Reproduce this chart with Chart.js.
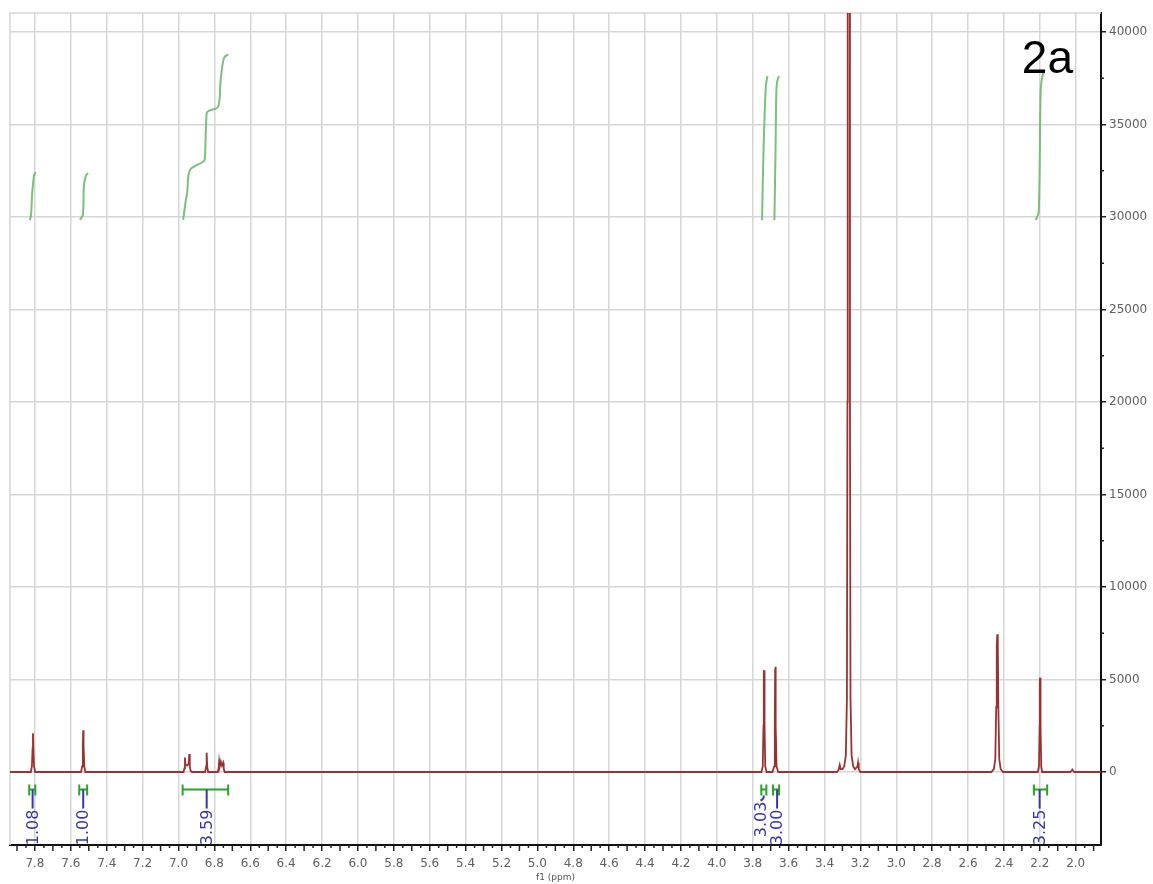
<!DOCTYPE html>
<html><head><meta charset="utf-8">
<script src="https://cdn.jsdelivr.net/npm/chart.js@4"></script>
<style>html,body{margin:0;padding:0;background:#fff;} canvas{display:block;}</style>
</head><body>
<canvas id="c" width="1153" height="884"></canvas>
<script>
// ---- spectrum (ppm, intensity) ----
const specPpm = [7.939, 7.823, 7.817, 7.813, 7.811, 7.809, 7.805, 7.799,
  7.543, 7.537, 7.533, 7.531, 7.529, 7.525, 7.519,
  6.972, 6.967, 6.964, 6.961, 6.952, 6.943, 6.940, 6.937, 6.932, 6.925,
  6.851, 6.846, 6.843, 6.840, 6.835,
  6.781, 6.776, 6.773, 6.769, 6.764, 6.758, 6.751, 6.748, 6.743,
  3.751, 3.744, 3.740, 3.738, 3.736, 3.734, 3.730, 3.723,
  3.690, 3.681, 3.677, 3.675, 3.673, 3.671, 3.667, 3.658,
  3.330, 3.322, 3.315, 3.310, 3.300, 3.290, 3.281, 3.275, 3.272, 3.2705, 3.2595, 3.258, 3.255, 3.249, 3.240, 3.230, 3.216, 3.213, 3.209, 3.200,
  2.470, 2.456, 2.448, 2.443, 2.440, 2.437, 2.434, 2.431, 2.426, 2.418, 2.405,
  2.211, 2.205, 2.201, 2.200, 2.198, 2.196, 2.192, 2.187,
  2.030, 2.022, 2.019, 2.015, 2.008,
  1.859];
const specInt = [0, 0, 300, 1300, 2090, 1300, 300, 0,
  0, 300, 1400, 2260, 1400, 300, 0,
  0, 200, 780, 400, 350, 450, 975, 300, 50, 0,
  0, 300, 1040, 300, 0,
  0, 200, 600, 350, 560, 350, 500, 200, 0,
  0, 300, 2500, 5400, 5500, 2500, 300, 0,
  0, 300, 2500, 5600, 5690, 2500, 300, 0,
  0, 100, 380, 150, 150, 300, 900, 4000, 20000, 80000, 80000, 20000, 4000, 900, 300, 150, 300, 500, 150, 0,
  0, 150, 700, 3500, 6800, 7440, 6800, 3500, 700, 150, 0,
  0, 300, 2500, 5000, 5100, 2500, 300, 0,
  0, 80, 130, 80, 0,
  0];

// ---- integral curves ----
const int1Ppm = [7.828, 7.822, 7.815, 7.806, 7.798];
const int1Val = [29840, 30100, 31300, 32200, 32430];
const int2Ppm = [7.549, 7.533, 7.527, 7.516, 7.505];
const int2Val = [29840, 30110, 31730, 32220, 32380];
const int3Ppm = [6.974, 6.959, 6.952, 6.936, 6.862, 6.853, 6.843, 6.829, 6.779, 6.765, 6.747, 6.723];
const int3Val = [29840, 30920, 31280, 32540, 32990, 33170, 35620, 35750, 35960, 37400, 38580, 38800];
const int4Ppm = [3.748, 3.740, 3.727, 3.718];
const int4Val = [29840, 33500, 37050, 37620];
const int5Ppm = [3.679, 3.673, 3.668, 3.662, 3.653];
const int5Val = [29840, 33500, 36860, 37400, 37620];
const int6Ppm = [2.223, 2.206, 2.195, 2.184, 2.173];
const int6Val = [29840, 30270, 36870, 37680, 37950];

// ---- integration brackets & labels ----
const intFrom = [7.832, 7.553, 6.977, 3.752, 3.687, 2.233];
const intTo = [7.798, 7.509, 6.723, 3.724, 3.653, 2.159];
const intLabelPpm = [7.813, 7.531, 6.843, 3.757, 3.664, 2.201];
const intLabels = ['1.08', '1.00', '3.59', '3.03', '3.00', '3.25'];

// ---- axes ----
const xTickValues = [7.8, 7.6, 7.4, 7.2, 7.0, 6.8, 6.6, 6.4, 6.2, 6.0, 5.8, 5.6, 5.4, 5.2, 5.0, 4.8, 4.6, 4.4, 4.2, 4.0, 3.8, 3.6, 3.4, 3.2, 3.0, 2.8, 2.6, 2.4, 2.2, 2.0];
const yTickValues = [0, 5000, 10000, 15000, 20000, 25000, 30000, 35000, 40000];
const yMinorTickValues = [2500, 7500, 12500, 17500, 22500, 27500, 32500, 37500];
const xRange = [1.859, 7.939];
const yRange = [-3946, 41027];
const xTitle = 'f1 (ppm)';
const sampleLabel = '2a';

const zip = (xs, ys) => xs.map((x, i) => ({x: x, y: ys[i]}));
const intColor = 'rgba(110,185,110,0.9)';
const intDs = (xs, ys) => ({data: zip(xs, ys), borderColor: intColor, borderWidth: 2, pointRadius: 0, tension: 0.3, fill: false});

const decor = {
  id: 'decor',
  beforeDatasetsDraw(chart) {
    const ctx = chart.ctx, a = chart.chartArea;
    ctx.save();
    ctx.strokeStyle = '#d6d6d6'; ctx.lineWidth = 1.5;
    ctx.beginPath();
    ctx.moveTo(a.left, a.bottom); ctx.lineTo(a.left, a.top); ctx.lineTo(a.right, a.top);
    ctx.stroke();
    ctx.restore();
  },
  afterDraw(chart) {
    const ctx = chart.ctx, a = chart.chartArea;
    const xs = chart.scales.x, ys = chart.scales.y;
    ctx.save();
    // minor x ticks
    ctx.strokeStyle = '#222'; ctx.lineWidth = 1.5;
    for (let k = Math.ceil(xRange[0] * 20); k <= Math.floor(xRange[1] * 20); k++) {
      if (k % 4 === 0) continue;
      const px = xs.getPixelForValue(k / 20);
      const len = (k % 2 === 0) ? 6 : 3;
      ctx.beginPath(); ctx.moveTo(px, a.bottom); ctx.lineTo(px, a.bottom + len); ctx.stroke();
    }
    // minor y ticks
    yMinorTickValues.forEach(v => {
      const py = ys.getPixelForValue(v);
      ctx.beginPath(); ctx.moveTo(a.right, py); ctx.lineTo(a.right + 3, py); ctx.stroke();
    });
    // integration brackets and labels (clipped to plot area)
    ctx.save();
    ctx.beginPath(); ctx.rect(a.left, a.top, a.right - a.left, a.bottom - a.top - 1); ctx.clip();
    const yb = ys.getPixelForValue(-950);
    intFrom.forEach((f, i) => {
      const x1 = xs.getPixelForValue(f), x2 = xs.getPixelForValue(intTo[i]);
      const cx = (x1 + x2) / 2, lx = xs.getPixelForValue(intLabelPpm[i]);
      ctx.strokeStyle = 'rgb(40,165,40)'; ctx.lineWidth = 2;
      ctx.beginPath();
      ctx.moveTo(x1, yb); ctx.lineTo(x2, yb);
      ctx.moveTo(x1, yb - 5); ctx.lineTo(x1, yb + 6);
      ctx.moveTo(x2, yb - 5); ctx.lineTo(x2, yb + 6);
      ctx.stroke();
      ctx.strokeStyle = 'rgb(55,55,165)'; ctx.lineWidth = 2;
      let textTop;
      ctx.beginPath();
      if (Math.abs(lx - cx) > 1.5) {
        ctx.moveTo(cx, yb + 6);
        ctx.quadraticCurveTo(cx, yb + 10, lx, yb + 11);
        textTop = yb + 12;
      } else {
        ctx.moveTo(lx, yb); ctx.lineTo(lx, yb + 19);
        textTop = yb + 20;
      }
      ctx.stroke();
      ctx.save();
      ctx.translate(lx, textTop);
      ctx.rotate(-Math.PI / 2);
      ctx.fillStyle = 'rgb(55,55,165)';
      ctx.font = '16px "DejaVu Sans"';
      ctx.textAlign = 'right'; ctx.textBaseline = 'middle';
      ctx.fillText(intLabels[i], 0, 1);
      ctx.restore();
    });
    ctx.restore();
    // sample label
    ctx.fillStyle = '#000';
    ctx.font = '46px "Liberation Sans", Arial, sans-serif';
    ctx.textAlign = 'right'; ctx.textBaseline = 'alphabetic';
    ctx.fillText(sampleLabel, a.right - 28, a.top + 60);
    ctx.restore();
  }
};

new Chart(document.getElementById('c'), {
  type: 'line',
  data: {
    datasets: [
      {data: zip(specPpm, specInt), borderColor: 'rgb(155,50,50)', borderWidth: 1.8, pointRadius: 0, tension: 0, fill: false},
      intDs(int1Ppm, int1Val), intDs(int2Ppm, int2Val), intDs(int3Ppm, int3Val),
      intDs(int4Ppm, int4Val), intDs(int5Ppm, int5Val), intDs(int6Ppm, int6Val)
    ]
  },
  options: {
    responsive: false, animation: false, devicePixelRatio: 1,
    layout: {padding: {left: 10, top: 13, right: 0, bottom: 0}},
    plugins: {legend: {display: false}, tooltip: {enabled: false}},
    scales: {
      x: {
        type: 'linear', position: 'bottom', reverse: true, min: xRange[0], max: xRange[1],
        afterBuildTicks: s => { s.ticks = xTickValues.map(v => ({value: v})); },
        afterFit: s => { s.height = 39; },
        ticks: {callback: v => Number(v).toFixed(1), color: '#606060', font: {family: 'DejaVu Sans', size: 12}, padding: 6, maxRotation: 0, autoSkip: false},
        grid: {color: '#d6d6d6', lineWidth: 1.5, tickColor: '#222', tickLength: 6, tickWidth: 1.5},
        border: {color: '#111', width: 2},
        title: {display: true, text: xTitle, color: '#555', font: {family: 'DejaVu Sans', size: 9}, padding: {top: 0, bottom: 1}}
      },
      y: {
        type: 'linear', position: 'right', min: yRange[0], max: yRange[1],
        afterBuildTicks: s => { s.ticks = yTickValues.map(v => ({value: v})); },
        afterFit: s => { s.width = 52; },
        ticks: {callback: v => String(v), color: '#606060', font: {family: 'DejaVu Sans', size: 12}, padding: 3},
        grid: {color: '#d6d6d6', lineWidth: 1.5, tickColor: '#222', tickLength: 5, tickWidth: 1.5},
        border: {color: '#111', width: 2}
      }
    }
  },
  plugins: [decor]
});
</script>
</body></html>
